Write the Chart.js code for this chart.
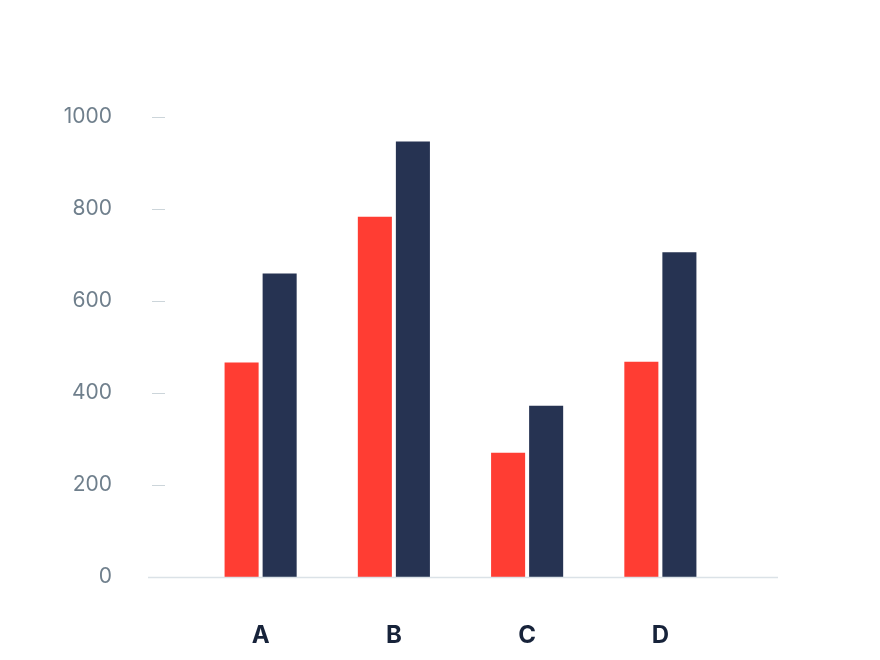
<!DOCTYPE html>
<html><head><meta charset="utf-8">
<script src="https://cdn.jsdelivr.net/npm/chart.js@4"></script>
<style>html,body{margin:0;padding:0;background:#fff;overflow:hidden}canvas{display:block}</style>
</head><body><canvas id="c" width="880" height="660" style="width:880px;height:660px"></canvas>
<script>
const categories = ['A','B','C','D'];
const seriesRed = [466, 783, 270, 468];
const seriesNavy = [660, 947, 372, 706];
const yTicks = [0,200,400,600,800,1000];

const axisDecor = {
  id:'axisDecor',
  afterDraw(chart){
    const ctx = chart.ctx, y = chart.scales.y;
    ctx.save();
    ctx.strokeStyle = '#dbe2e7'; ctx.lineWidth = 1.5;
    const y0 = Math.round(y.getPixelForValue(0))+0.5;
    ctx.beginPath(); ctx.moveTo(148,y0); ctx.lineTo(778,y0); ctx.stroke();
    ctx.strokeStyle = '#ccd5da'; ctx.lineWidth = 1;
    yTicks.forEach(v=>{ if(v===0) return; const py=Math.round(y.getPixelForValue(v))+0.5; ctx.beginPath(); ctx.moveTo(152,py); ctx.lineTo(165,py); ctx.stroke(); });
    ctx.restore();
  }
};

new Chart(document.getElementById('c'), {
  type:'bar',
  data:{ labels:categories, datasets:[
    {data:seriesRed, backgroundColor:'#ff3d33', categoryPercentage:0.571, barPercentage:0.895},
    {data:seriesNavy, backgroundColor:'#263352', categoryPercentage:0.571, barPercentage:0.895}
  ]},
  options:{
    responsive:false, animation:false,
    layout:{padding:{top:117,right:153,bottom:-55,left:0}},
    plugins:{legend:{display:false}, tooltip:{enabled:false}},
    scales:{
      x:{ grid:{display:false, drawTicks:false}, border:{display:false},
          ticks:{padding:44, color:'#17233a', font:{family:'Inter', size:24, weight:'bold', lineHeight:1.2}} },
      y:{ min:0, max:1000, afterBuildTicks(s){ s.ticks = yTicks.map(v=>({value:v})); },
          grid:{display:false, drawTicks:false}, border:{display:false},
          afterFit(s){ s.width = 194; },
          ticks:{padding:82, color:'#6f7f8c', font:{family:'Inter', size:21, lineHeight:0.1}, callback:(v)=>String(v)} }
    }
  },
  plugins:[axisDecor]
});
</script></body></html>
